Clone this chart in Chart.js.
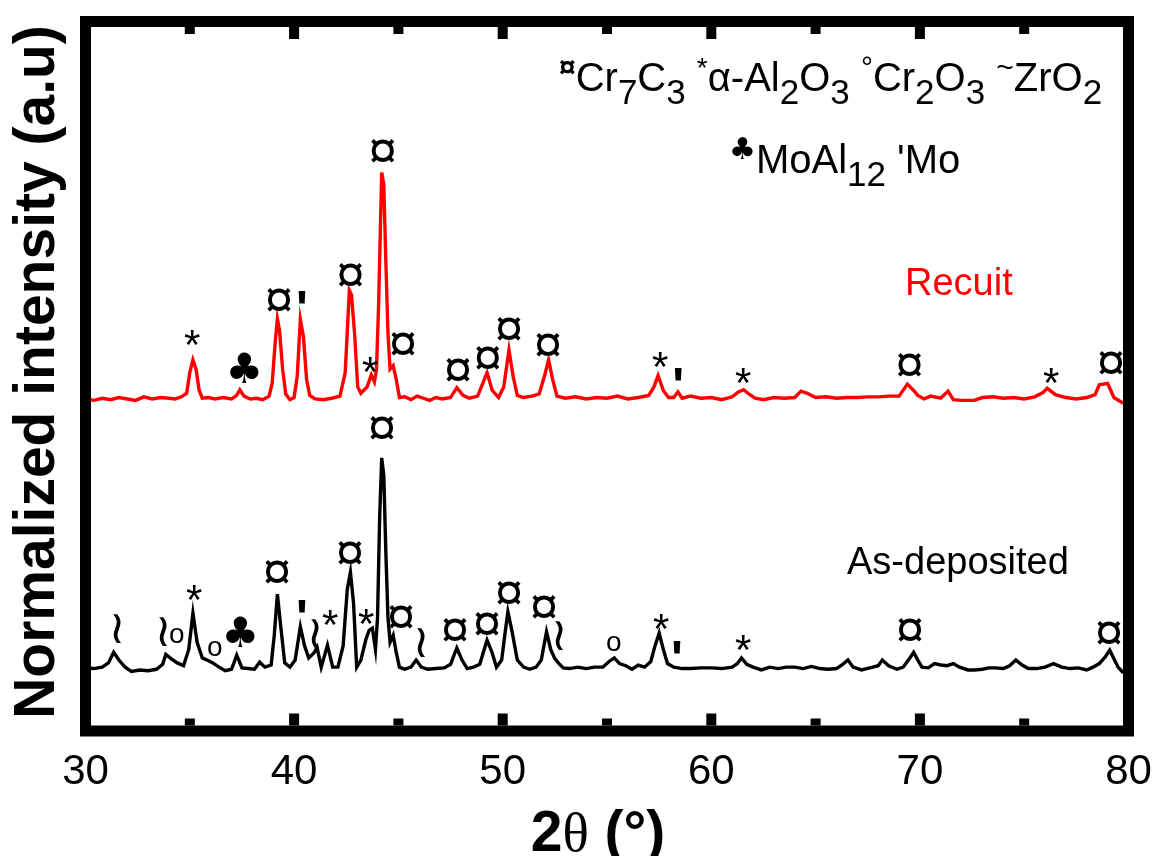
<!DOCTYPE html>
<html>
<head>
<meta charset="utf-8">
<script src="https://cdn.jsdelivr.net/npm/chart.js@4.4.1/dist/chart.umd.min.js"></script>
<style>
  html, body { margin: 0; padding: 0; background: #fff; }
  canvas { display: block; }
</style>
</head>
<body>
<canvas id="xrd" width="1154" height="856"></canvas>
<script>
// 2theta values and normalized intensity (a.u)
const recuitX = [30.0, 30.4, 30.8, 31.2, 31.6, 32.0, 32.4, 32.8, 33.2, 33.6, 34.0, 34.3, 34.6, 34.85, 35.0, 35.15, 35.3, 35.45, 35.6, 35.9,
  36.2, 36.6, 37.0, 37.25, 37.4, 37.6, 37.9, 38.2, 38.5, 38.8, 38.95, 39.1, 39.2, 39.3, 39.45, 39.6, 39.8, 40.0, 40.15, 40.3,
  40.45, 40.6, 40.75, 41.0, 41.4, 41.8, 42.2, 42.45, 42.65, 42.75, 42.9, 43.05, 43.2, 43.5, 43.7, 43.85, 43.95, 44.05, 44.2, 44.3,
  44.4, 44.5, 44.6, 44.75, 44.9, 45.05, 45.3, 45.6, 45.9, 46.2, 46.5, 46.8, 47.1, 47.5, 47.8, 48.1, 48.4, 48.8, 49.25, 49.5,
  49.8, 50.05, 50.3, 50.5, 50.7, 51.0, 51.4, 51.75, 52.0, 52.2, 52.4, 52.6, 53.0, 53.5, 54.0, 54.5, 55.0, 55.5, 56.0, 56.5,
  57.0, 57.25, 57.45, 57.7, 57.95, 58.2, 58.4, 58.6, 59.0, 59.5, 60.0, 60.5, 61.0, 61.3, 61.55, 61.8, 62.1, 62.5, 63.0, 63.5,
  64.0, 64.3, 64.6, 65.0, 65.5, 66.0, 66.5, 67.0, 67.5, 68.0, 68.5, 69.0, 69.4, 69.7, 69.9, 70.2, 70.5, 71.0, 71.35, 71.6,
  72.0, 72.6, 73.0, 73.5, 74.0, 74.5, 75.0, 75.5, 75.9, 76.1, 76.5, 77.0, 77.5, 78.0, 78.4, 78.6, 79.0, 79.3, 79.75];
const recuitY = [46.8, 46.6, 46.9, 46.7, 47.0, 46.8, 46.6, 47.1, 46.8, 47.0, 46.9, 46.8, 47.1, 47.6, 50.5, 52.3, 51.0, 48.0, 46.9, 47.0,
  46.8, 47.0, 46.8, 47.3, 48.1, 47.2, 46.8, 46.9, 46.7, 47.2, 49.0, 55.0, 58.1, 56.5, 51.0, 47.5, 46.7, 47.0, 50.0, 58.0,
  55.5, 49.5, 47.3, 46.8, 46.7, 46.9, 47.2, 50.5, 62.1, 61.5, 56.0, 48.5, 47.6, 48.5, 50.2, 49.2, 51.0, 60.0, 78.7, 77.0,
  66.0, 56.0, 51.0, 51.5, 49.5, 47.0, 47.1, 46.7, 47.2, 46.9, 46.6, 47.0, 46.8, 47.0, 48.4, 47.3, 46.9, 47.2, 50.5, 48.0,
  47.0, 48.5, 53.7, 50.0, 47.3, 47.0, 47.2, 47.5, 50.0, 52.3, 49.5, 47.2, 46.9, 47.1, 46.8, 47.0, 46.9, 47.2, 46.8, 47.0,
  47.3, 48.5, 50.1, 48.0, 47.0, 47.0, 47.8, 46.9, 47.2, 46.9, 47.0, 46.7, 47.1, 47.8, 48.1, 47.5, 46.9, 46.7, 47.0, 46.9,
  47.0, 47.9, 47.6, 47.0, 47.1, 46.9, 47.0, 47.0, 47.1, 47.1, 47.2, 47.2, 48.9, 48.0, 47.3, 46.8, 47.2, 46.9, 47.9, 46.7,
  46.6, 46.6, 47.0, 47.1, 46.9, 47.0, 46.8, 47.1, 47.7, 48.3, 47.4, 47.0, 46.8, 47.0, 47.4, 48.8, 49.0, 47.0, 46.2];

const depositX = [30.0, 30.4, 30.8, 31.1, 31.35, 31.6, 31.9, 32.2, 32.6, 33.0, 33.4, 33.7, 33.85, 34.1, 34.4, 34.7, 34.95, 35.15, 35.35, 35.6,
  35.9, 36.1, 36.4, 36.7, 37.0, 37.25, 37.5, 37.8, 38.1, 38.35, 38.6, 38.9, 39.05, 39.2, 39.35, 39.55, 39.8, 40.05, 40.3, 40.5,
  40.7, 40.95, 41.1, 41.3, 41.6, 41.85, 42.1, 42.35, 42.55, 42.7, 42.85, 43.0, 43.2, 43.45, 43.6, 43.75, 43.9, 44.0, 44.1, 44.2,
  44.3, 44.4, 44.5, 44.6, 44.75, 44.9, 45.05, 45.3, 45.6, 45.85, 46.1, 46.4, 46.8, 47.2, 47.5, 47.8, 48.05, 48.3, 48.6, 48.9,
  49.25, 49.5, 49.7, 49.95, 50.1, 50.25, 50.45, 50.7, 51.0, 51.3, 51.6, 51.85, 52.1, 52.3, 52.5, 52.7, 52.9, 53.2, 53.6, 54.0,
  54.4, 54.8, 55.1, 55.35, 55.6, 55.9, 56.2, 56.5, 56.8, 57.1, 57.3, 57.5, 57.7, 57.9, 58.2, 58.6, 59.0, 59.5, 60.0, 60.5,
  61.0, 61.25, 61.45, 61.7, 62.0, 62.4, 62.8, 63.2, 63.6, 64.0, 64.4, 64.8, 65.2, 65.6, 66.0, 66.3, 66.55, 66.8, 67.2, 67.6,
  68.0, 68.2, 68.5, 68.9, 69.2, 69.5, 69.7, 69.9, 70.1, 70.4, 70.7, 71.0, 71.3, 71.6, 71.9, 72.3, 72.6, 73.0, 73.3, 73.6,
  74.0, 74.3, 74.6, 74.9, 75.2, 75.6, 76.0, 76.4, 76.8, 77.2, 77.6, 78.0, 78.3, 78.6, 78.9, 79.1, 79.3, 79.5, 79.75];
const depositY = [8.9, 8.8, 9.0, 9.6, 11.1, 10.0, 9.0, 8.4, 8.6, 8.5, 8.7, 9.4, 10.8, 10.2, 9.6, 9.2, 11.5, 16.6, 12.5, 10.3,
  9.9, 9.6, 9.0, 8.5, 8.7, 10.7, 8.9, 8.8, 8.7, 9.7, 9.0, 9.3, 13.5, 19.3, 15.0, 9.6, 9.0, 10.0, 14.7, 12.0,
  10.3, 11.0, 11.8, 9.0, 12.1, 9.0, 9.0, 12.0, 20.0, 22.4, 18.0, 9.0, 10.0, 13.0, 14.2, 14.5, 11.5, 16.0, 30.0, 38.5,
  36.0, 25.0, 16.0, 12.5, 13.5, 11.0, 9.0, 8.7, 9.0, 10.0, 9.0, 8.7, 8.8, 8.9, 9.4, 11.7, 10.0, 8.8, 9.0, 9.4,
  12.8, 11.0, 9.0, 10.0, 13.5, 16.8, 14.0, 10.0, 9.0, 8.7, 9.0, 10.0, 14.0, 11.5, 10.2, 9.5, 8.9, 8.8, 9.0, 8.8,
  9.0, 9.0, 9.8, 10.3, 9.5, 9.2, 8.7, 9.3, 9.0, 9.8, 12.0, 13.8, 11.5, 9.5, 9.0, 8.8, 8.8, 8.9, 8.9, 8.8,
  9.0, 9.5, 10.3, 9.4, 9.0, 8.6, 9.0, 8.8, 9.0, 9.0, 8.8, 9.1, 8.8, 8.7, 8.8, 9.4, 10.0, 9.0, 8.6, 8.9,
  9.2, 10.0, 9.2, 8.7, 9.0, 10.2, 11.1, 10.0, 9.0, 8.9, 9.5, 9.3, 9.2, 9.5, 9.0, 8.6, 8.6, 8.7, 8.9, 8.9,
  8.8, 9.2, 10.0, 9.3, 8.8, 8.8, 9.0, 9.5, 9.0, 8.8, 8.9, 8.6, 9.0, 9.5, 10.5, 11.4, 10.2, 9.0, 8.2];

// phase markers: symbol, 2theta, height
const recuitMarks = [
  ['*', 35.11, 55.4], ['♣', 37.6, 51.2], ['¤', 39.28, 60.7], ["'", 40.38, 61.1], ['¤', 42.7, 64.3],
  ['*', 43.64, 51.6], ['¤', 44.25, 81.7], ['¤', 45.22, 54.6], ['¤', 47.86, 50.9], ['¤', 49.28, 52.6],
  ['¤', 50.3, 56.7], ['¤', 52.17, 54.4], ['*', 57.54, 52.3], ["'", 58.42, 50.2], ['*', 61.52, 50.0],
  ['¤', 69.5, 51.6], ['*', 76.28, 50.0], ['¤', 79.16, 51.9]
];
const depositMarks = [
  ['≀', 31.51, 14.5], ['≀', 33.72, 14.0], ['o', 34.39, 13.4], ['*', 35.2, 19.5], ['o', 36.21, 11.6],
  ['♣', 37.41, 14.0], ['¤', 39.18, 22.4], ["'", 40.38, 17.5], ['≀', 41.0, 13.8], ['*', 41.72, 15.9],
  ['¤', 42.68, 25.1], ['*', 43.45, 16.1], ['¤', 44.21, 42.7], ['¤', 45.12, 16.1], ['≀', 46.08, 12.5],
  ['¤', 47.71, 14.2], ['¤', 49.25, 15.1], ['¤', 50.3, 19.5], ['¤', 51.98, 17.5], ['≀', 52.7, 13.5],
  ['o', 55.34, 12.4], ['*', 57.59, 15.4], ["'", 58.36, 11.8], ['*', 61.52, 12.4], ['¤', 69.52, 14.2],
  ['¤', 79.07, 13.8]
];

const xTicks = [30, 40, 50, 60, 70, 80];
const xMinorTicks = [35, 45, 55, 65, 75];
const xTickLabels = ['30', '40', '50', '60', '70', '80'];

const SANS = '"Liberation Sans", Arial, "DejaVu Sans", sans-serif';

const markFonts = {
  '¤': '52px ' + SANS,
  '*': '42px ' + SANS,
  "'": 'bold 50px ' + SANS,
  '♣': '42px "DejaVu Sans", sans-serif',
  '≀': '46px "DejaVu Sans", sans-serif',
  'o': '28px ' + SANS
};

function toPoints(xs, ys) {
  return xs.map((x, i) => ({ x: x, y: ys[i] }));
}

// draw a glyph so that its ink is centred on (cx, cy)
function drawCentered(ctx, text, cx, cy) {
  const m = ctx.measureText(text);
  const left = cx - (m.actualBoundingBoxRight + m.actualBoundingBoxLeft) / 2 + m.actualBoundingBoxLeft;
  const base = cy + (m.actualBoundingBoxAscent - m.actualBoundingBoxDescent) / 2;
  ctx.fillText(text, left, base);
}

// text with sub/superscripts, segments = [text, kind, size]
function drawRich(ctx, segs, x, y, size) {
  ctx.textAlign = 'left';
  ctx.textBaseline = 'alphabetic';
  segs.forEach(([t, kind, sz]) => {
    let font = size + 'px ' + SANS, dy = 0;
    if (kind === 'sub') { font = Math.round(size * 0.88) + 'px ' + SANS; dy = 13; }
    if (kind === 'sup') { font = (sz || 26) + 'px ' + SANS; dy = -14; }
    if (t === '♣') font = (sz || 26) + 'px "DejaVu Sans", sans-serif';
    if (t === '¤') font = 'bold ' + font;
    ctx.font = font;
    ctx.fillText(t, x, y + dy);
    x += ctx.measureText(t).width;
  });
}

const framePlugin = {
  id: 'frame',
  afterDatasetsDraw(chart) {
    const ctx = chart.ctx;
    const xs = chart.scales.x, ys = chart.scales.y;
    const a = chart.chartArea;
    ctx.save();
    ctx.fillStyle = '#000';
    ctx.textAlign = 'left';
    ctx.textBaseline = 'alphabetic';

    recuitMarks.concat(depositMarks).forEach(([s, x, y]) => {
      ctx.font = markFonts[s];
      drawCentered(ctx, s, xs.getPixelForValue(x), ys.getPixelForValue(y));
    });

    // phase legend
    drawRich(ctx, [['¤', 'sup', 30], ['Cr'], ['7', 'sub'], ['C'], ['3', 'sub'], [' '], ['*', 'sup', 28], ['α-Al'], ['2', 'sub'], ['O'], ['3', 'sub'],
      [' '], ['°', 'sup', 30], ['Cr'], ['2', 'sub'], ['O'], ['3', 'sub'], [' '], ['~', 'sup', 30], ['ZrO'], ['2', 'sub']], 559, 91, 40);
    drawRich(ctx, [['♣', 'sup', 30], ['MoAl'], ['12', 'sub'], [' '], ["'Mo"]], 729, 173, 40);

    ctx.font = '38px ' + SANS;
    ctx.textAlign = 'left';
    ctx.fillStyle = '#ff0000';
    ctx.fillText('Recuit', 905, 295);
    ctx.fillStyle = '#000';
    ctx.fillText('As-deposited', 847, 574);

    // frame
    ctx.lineWidth = 11;
    ctx.strokeStyle = '#000';
    ctx.strokeRect(a.left, a.top, a.right - a.left, a.bottom - a.top);

    // inward ticks on top and bottom
    const inTop = a.top + 5.5, inBot = a.bottom - 5.5;
    xTicks.slice(1, -1).forEach(v => {
      const px = xs.getPixelForValue(v);
      ctx.fillRect(px - 5, inTop, 10, 12);
      ctx.fillRect(px - 5, inBot - 12, 10, 12);
    });
    xMinorTicks.forEach(v => {
      const px = xs.getPixelForValue(v);
      ctx.fillRect(px - 5, inTop, 10, 7);
      ctx.fillRect(px - 5, inBot - 7, 10, 7);
    });

    // tick labels
    ctx.font = '42px ' + SANS;
    ctx.textAlign = 'center';
    xTicks.forEach((v, i) => {
      ctx.fillText(xTickLabels[i], xs.getPixelForValue(v), 784);
    });

    // axis titles
    const boldT = 'bold 57px ' + SANS, serifT = '55px "Liberation Serif", serif';
    ctx.textAlign = 'left';
    ctx.font = boldT;
    const w1 = ctx.measureText('2').width, w3 = ctx.measureText(' (°)').width;
    ctx.font = serifT;
    const w2 = ctx.measureText('θ').width;
    const tx = 598 - (w1 + w2 + w3) / 2;
    ctx.font = boldT;
    ctx.fillText('2', tx, 851);
    ctx.font = serifT;
    ctx.fillText('θ', tx + w1, 851);
    ctx.font = boldT;
    ctx.fillText(' (°)', tx + w1 + w2, 851);

    ctx.translate(54, 372);
    ctx.rotate(-Math.PI / 2);
    ctx.textAlign = 'center';
    ctx.font = 'bold 57px ' + SANS;
    ctx.fillText('Normalized intensity (a.u)', 0, 0);
    ctx.restore();
  }
};

new Chart(document.getElementById('xrd'), {
  type: 'line',
  data: {
    datasets: [
      { label: 'Recuit', data: toPoints(recuitX, recuitY), borderColor: '#ff0000', borderWidth: 3.4, pointRadius: 0, tension: 0, fill: false },
      { label: 'As-deposited', data: toPoints(depositX, depositY), borderColor: '#000000', borderWidth: 3.4, pointRadius: 0, tension: 0, fill: false }
    ]
  },
  options: {
    responsive: false,
    animation: false,
    devicePixelRatio: 1,
    layout: { padding: { left: 85.5, right: 25.5, top: 21.5, bottom: 125 } },
    scales: {
      x: { type: 'linear', min: 30, max: 80, display: false },
      y: { type: 'linear', min: 0, max: 100, display: false }
    },
    plugins: { legend: { display: false }, tooltip: { enabled: false } }
  },
  plugins: [framePlugin]
});
</script>
</body>
</html>
